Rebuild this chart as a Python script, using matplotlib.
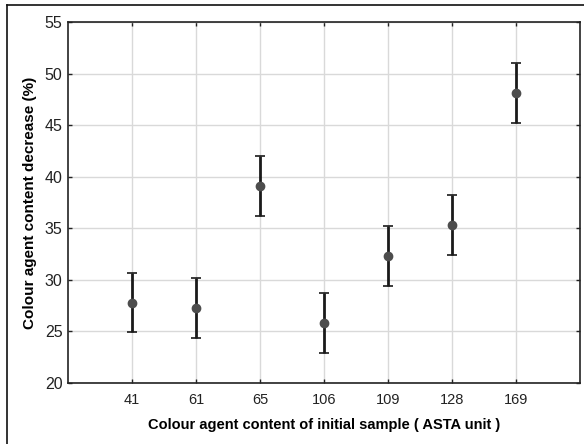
import matplotlib.pyplot as plt
from matplotlib.lines import Line2D

plt.rcParams['font.family'] = ['Liberation Sans', 'DejaVu Sans']

samples = ['41', '61', '65', '106', '109', '128', '169']
decrease = [27.8, 27.25, 39.1, 25.8, 32.35, 35.35, 48.1]
err = [2.9, 2.9, 2.9, 2.9, 2.9, 2.9, 2.9]
yticks = [20, 25, 30, 35, 40, 45, 50, 55]

fig = plt.figure(figsize=(5.84, 4.44), dpi=100)
ax = fig.add_axes([68 / 584, 1 - 383 / 444, 512 / 584, 361 / 444])

pos = list(range(1, len(samples) + 1))
ax.errorbar(pos, decrease, yerr=err, fmt='none', ecolor='#1a1a1a',
            elinewidth=2, capsize=3.5, capthick=1.2, zorder=3)
ax.plot(pos, decrease, 'o', color='#4d4d4d', markersize=6, zorder=4)

ax.set_xlim(0, 8)
ax.set_ylim(20, 55)
ax.set_xticks(pos)
ax.set_xticklabels(samples)
ax.set_yticks(yticks)
ax.grid(True, color='#d9d9d9', linewidth=1)
ax.set_axisbelow(True)
ax.tick_params(direction='in', length=3, width=1, top=True, right=True,
               colors='#222222')
ax.tick_params(axis='y', labelsize=11.5, pad=4)
ax.tick_params(axis='x', labelsize=10.5, pad=7)
for s in ax.spines.values():
    s.set_linewidth(1.2)
    s.set_color('#222222')

ax.set_xlabel('Colour agent content of initial sample ( ASTA unit )',
              fontsize=10.5, fontweight='bold')
ax.set_ylabel('Colour agent content decrease (%)',
              fontsize=11, fontweight='bold')
ax.xaxis.set_label_coords(0.5, -(425 - 383) / 361, transform=ax.transAxes)
ax.yaxis.set_label_coords(-(68 - 30) / 512, 0.5, transform=ax.transAxes)
ax.xaxis.label.set_va('center')
ax.yaxis.label.set_va('center')

# outer frame lines
fig.add_artist(Line2D([7 / 584, 1], [1 - 5 / 444, 1 - 5 / 444],
                      transform=fig.transFigure, color='#111111', lw=1.2))
fig.add_artist(Line2D([7 / 584, 7 / 584], [0, 1 - 5 / 444],
                      transform=fig.transFigure, color='#111111', lw=1.2))

fig.savefig('out.png', dpi=100)
